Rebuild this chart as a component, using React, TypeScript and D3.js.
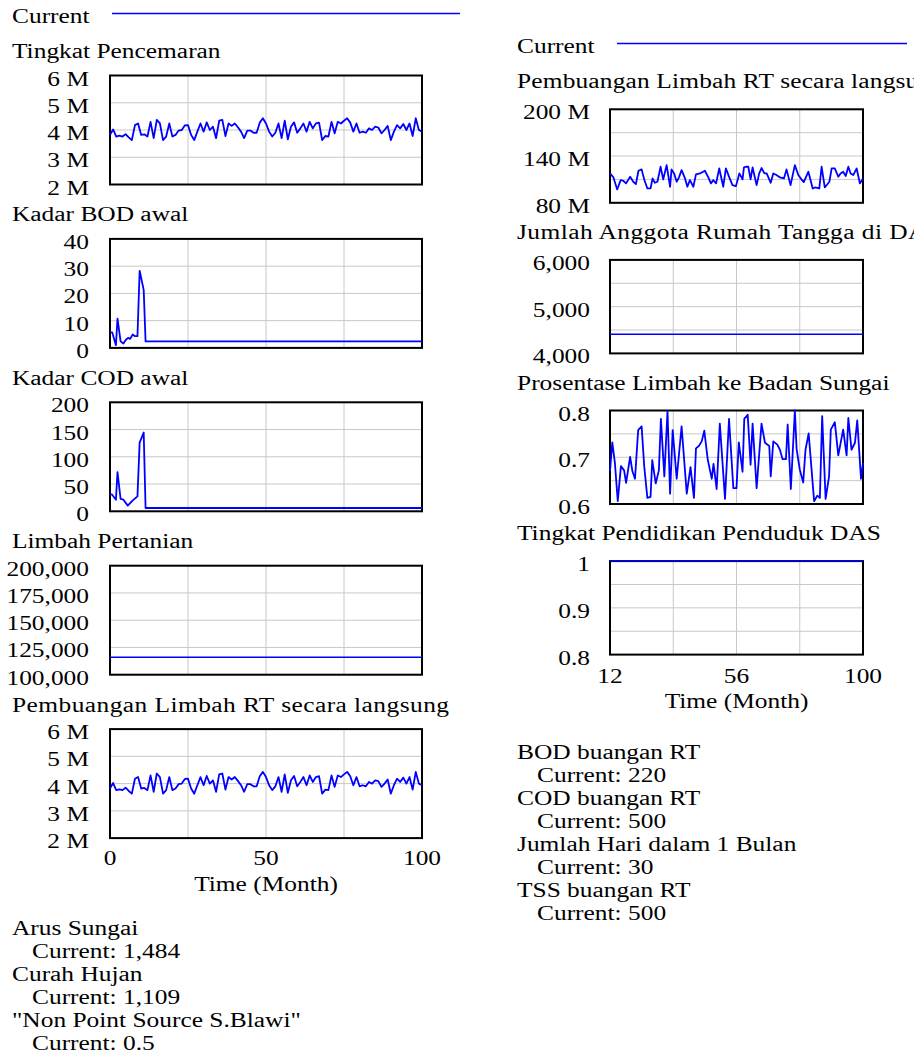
import React, { useEffect, useRef } from "react";
import * as d3 from "d3";

// ---- left column (time 0..100) ----
const monthsLeft = d3.range(0, 101);
// Tingkat Pencemaran, in millions
const tingkatPencemaran = [
  3.82, 4.02, 3.76, 3.79, 3.76, 3.85, 3.73, 3.63, 4.18, 4.24,
  3.82, 3.84, 3.76, 4.30, 3.70, 4.37, 4.24, 3.63, 3.76, 4.24,
  3.76, 3.82, 3.98, 4.00, 4.17, 4.18, 3.82, 3.63, 3.94, 4.24,
  3.94, 4.28, 4.00, 4.12, 3.70, 4.34, 4.37, 3.78, 4.24, 4.15,
  4.24, 4.10, 3.94, 3.70, 3.98, 3.98, 3.90, 3.90, 4.27, 4.43,
  4.24, 3.94, 3.76, 3.90, 4.24, 3.70, 4.34, 3.66, 4.12, 4.28,
  3.90, 4.06, 4.24, 3.94, 4.30, 4.06, 4.24, 4.27, 3.63, 3.78,
  3.76, 4.30, 3.88, 4.30, 4.24, 4.34, 4.43, 4.27, 3.94, 4.24,
  3.90, 3.94, 3.90, 4.06, 4.00, 4.12, 4.09, 3.88, 4.00, 4.15,
  3.63, 3.94, 4.18, 4.06, 4.22, 4.00, 4.24, 3.78, 4.43, 4.00,
  3.94,
];
// Pembuangan Limbah RT secara langsung (left) looks the same as above
const pembuanganLangsung = tingkatPencemaran;

const bodTime = [0, 0.7, 1.9, 2.4, 3.4, 4.3, 5.1, 5.8, 6.4, 7.3, 8.0, 8.8, 9.5, 10.8, 11.4, 100];
const bodValue = [5.7, 5.7, 1.0, 10.7, 2.4, 1.6, 3.0, 3.7, 3.3, 4.9, 4.3, 4.3, 28.3, 21.3, 2.4, 2.4];

const codTime = [0, 0.7, 1.9, 2.4, 3.4, 4.3, 5.7, 7.3, 8.8, 9.5, 10.8, 11.4, 100];
const codValue = [31.7, 30.5, 21.3, 72, 22.6, 21.3, 10.4, 20, 27.4, 126, 144.5, 6.1, 6.1];

const limbahPertanianTime = [0, 100];
const limbahPertanianValue = [116000, 116000];

// ---- right column (time 12..100) ----
const pembuanganKananTime = [
  12.0, 13.2, 14.5, 15.7, 16.6, 17.6, 19.0, 20.1, 21.0, 21.9,
  23.0, 23.9, 25.0, 26.1, 26.8, 27.6, 28.5, 29.6, 30.5, 31.7,
  32.9, 33.4, 34.3, 35.2, 36.0, 36.9, 38.1, 38.9, 39.8, 41.0,
  41.9, 43.3, 45.0, 46.2, 47.1, 47.9, 48.9, 50.0, 51.4, 52.3,
  53.5, 54.6, 55.8, 57.0, 58.1, 58.6, 59.5, 60.1, 60.9, 61.6,
  63.0, 63.9, 64.7, 65.7, 66.5, 67.9, 68.8, 69.9, 71.1, 72.5,
  73.4, 74.8, 76.3, 77.5, 78.6, 79.4, 81.0, 82.5, 83.3, 84.8,
  85.6, 86.7, 88.3, 89.1, 90.2, 91.4, 92.2, 93.1, 94.0, 94.9,
  95.7, 96.6, 97.8, 98.9, 100,
];
// millions
const pembuanganKananValue = [
  117.7, 112.6, 97.1, 109.1, 108.3, 104.9, 113.4, 107.0, 104.0, 121.1,
  122.9, 110.0, 98.4, 98.4, 111.3, 105.7, 107.0, 126.3, 110.0, 128.4,
  100.6, 122.9, 117.7, 107.0, 112.6, 122.0, 111.3, 100.6, 109.1, 100.6,
  116.4, 117.7, 121.1, 112.6, 104.9, 109.1, 104.9, 124.1, 100.6, 124.1,
  112.6, 102.7, 101.4, 117.7, 110.0, 125.4, 126.3, 126.3, 110.0, 125.4,
  102.7, 117.7, 124.6, 117.7, 117.7, 105.7, 117.7, 115.6, 112.6, 111.3,
  122.9, 102.7, 128.4, 115.6, 110.0, 106.6, 119.9, 98.4, 99.7, 98.4,
  126.3, 99.7, 107.0, 124.1, 124.1, 113.4, 117.7, 119.9, 114.3, 126.3,
  117.7, 115.6, 124.1, 104.9, 111.3,
];

const jumlahAnggotaTime = [12, 100];
const jumlahAnggotaValue = [4410, 4410];

const prosentaseTime = [
  12.0, 12.8, 13.7, 14.7, 15.8, 16.9, 17.6, 19.0, 19.8, 20.7,
  21.8, 23.0, 23.9, 25.0, 26.1, 26.7, 27.9, 29.0, 29.7, 30.9,
  32.0, 32.9, 33.8, 35.2, 36.9, 38.7, 40.0, 41.2, 41.9, 42.9,
  43.9, 44.8, 46.0, 47.4, 48.0, 49.1, 50.2, 52.0, 53.4, 54.9,
  56.0, 56.8, 58.1, 58.7, 59.9, 60.9, 61.6, 63.0, 64.7, 65.9,
  67.4, 67.9, 68.8, 70.2, 71.1, 72.0, 73.2, 73.8, 74.9, 76.3,
  76.9, 78.0, 79.2, 80.0, 81.1, 83.0, 84.1, 85.0, 85.8, 87.0,
  88.2, 88.8, 90.2, 91.4, 93.1, 94.3, 94.9, 96.0, 97.2, 98.0,
  99.3, 100,
];
const prosentaseValue = [
  0.670, 0.732, 0.688, 0.606, 0.681, 0.672, 0.645, 0.701, 0.670, 0.654,
  0.758, 0.766, 0.681, 0.613, 0.615, 0.694, 0.644, 0.672, 0.782, 0.659,
  0.799, 0.622, 0.758, 0.654, 0.766, 0.622, 0.679, 0.613, 0.719, 0.724,
  0.734, 0.757, 0.695, 0.654, 0.686, 0.632, 0.772, 0.611, 0.782, 0.634,
  0.634, 0.732, 0.669, 0.782, 0.791, 0.684, 0.772, 0.634, 0.772, 0.731,
  0.724, 0.659, 0.734, 0.727, 0.716, 0.696, 0.696, 0.770, 0.632, 0.800,
  0.718, 0.674, 0.646, 0.716, 0.751, 0.606, 0.618, 0.613, 0.788, 0.611,
  0.659, 0.759, 0.775, 0.704, 0.759, 0.704, 0.784, 0.716, 0.731, 0.779,
  0.654, 0.688,
];

const pendidikanTime = [12, 100];
const pendidikanValue = [1, 1];

// tick labels
const ticksMillion = [2, 3, 4, 5, 6];
const ticksMillionLabels = ["2 M", "3 M", "4 M", "5 M", "6 M"];
const ticksBod = [0, 10, 20, 30, 40];
const ticksCod = [0, 50, 100, 150, 200];
const ticksPertanian = [100000, 125000, 150000, 175000, 200000];
const ticksPertanianLabels = ["100,000", "125,000", "150,000", "175,000", "200,000"];
const gridKanan1 = [80, 110, 140, 170, 200];
const labelKanan1 = ["80 M", "", "140 M", "", "200 M"];
const gridKanan2 = [4000, 4500, 5000, 5500, 6000];
const labelKanan2 = ["4,000", "", "5,000", "", "6,000"];
const gridKanan3 = [0.6, 0.65, 0.7, 0.75, 0.8];
const labelKanan3 = ["0.6", "", "0.7", "", "0.8"];
const gridKanan4 = [0.8, 0.85, 0.9, 0.95, 1];
const labelKanan4 = ["0.8", "", "0.9", "", "1"];

const timeTicksLeft = [0, 50, 100];
const timeGridLeft = [25, 50, 75];
const timeTicksRight = [12, 56, 100];
const timeGridRight = [34, 56, 78];

const infoLeft = [
  ["Arus Sungai", "Current: 1,484"],
  ["Curah Hujan", "Current: 1,109"],
  ['"Non Point Source S.Blawi"', "Current: 0.5"],
];
const infoRight = [
  ["BOD buangan RT", "Current: 220"],
  ["COD buangan RT", "Current: 500"],
  ["Jumlah Hari dalam 1 Bulan", "Current: 30"],
  ["TSS buangan RT", "Current: 500"],
];

const W = 914;
const H = 1054;
const SX = 1.27; // text is drawn horizontally stretched
const BLUE = "#0000ff";

function txt(g, x, y, s, anchor = "start", width = 0) {
  const t = g
    .append("text")
    .attr("transform", `translate(${x},${y}) scale(${SX},1)`)
    .attr("text-anchor", anchor)
    .text(s);
  if (width) t.attr("textLength", width / SX).attr("lengthAdjust", "spacing");
  return t;
}

function drawPanel(g, p) {
  const x = p.x;
  const [x0, x1] = x.range();
  const y = d3.scaleLinear().domain(p.domain).range([p.top + p.height, p.top]);

  // grid
  g.append("g")
    .selectAll("line")
    .data(p.grid)
    .enter()
    .append("line")
    .attr("x1", x0)
    .attr("x2", x1)
    .attr("y1", (d) => y(d))
    .attr("y2", (d) => y(d))
    .attr("stroke", "#c8c8c8")
    .attr("stroke-width", 1);
  g.append("g")
    .selectAll("line")
    .data(p.xGrid)
    .enter()
    .append("line")
    .attr("x1", (d) => x(d))
    .attr("x2", (d) => x(d))
    .attr("y1", p.top)
    .attr("y2", p.top + p.height)
    .attr("stroke", "#c8c8c8")
    .attr("stroke-width", 1);

  g.append("rect")
    .attr("x", x0)
    .attr("y", p.top)
    .attr("width", x1 - x0)
    .attr("height", p.height)
    .attr("fill", "none")
    .attr("stroke", "#000")
    .attr("stroke-width", 2);

  const pts = p.time.map((t, i) => [t, p.values[i]]);
  const line = d3
    .line()
    .x((d) => x(d[0]))
    .y((d) => y(d[1]));
  g.append("path")
    .datum(pts)
    .attr("d", line)
    .attr("fill", "none")
    .attr("stroke", BLUE)
    .attr("stroke-width", p.lw || 1.8)
    .attr("stroke-linejoin", "round");

  // labels
  p.grid.forEach((v, i) => {
    if (p.labels[i]) txt(g, p.labelX, y(v) + 10, p.labels[i], "end");
  });
  txt(g, p.titleX, p.top - p.titleGap, p.title, "start", p.tw || 0);
}

function App() {
  const ref = useRef(null);

  useEffect(() => {
    const svg = d3.select(ref.current);
    svg.selectAll("*").remove();
    const g = svg
      .append("g")
      .attr("font-family", "'Liberation Serif', 'Times New Roman', serif")
      .attr("font-size", 20)
      .attr("fill", "#000");

    const xL = d3.scaleLinear().domain([0, 100]).range([110, 422]);
    const xR = d3.scaleLinear().domain([12, 100]).range([610, 863]);

    // legends
    txt(g, 12, 23, "Current");
    g.append("line").attr("x1", 112).attr("x2", 460).attr("y1", 13.5).attr("y2", 13.5)
      .attr("stroke", BLUE).attr("stroke-width", 1.5);
    txt(g, 517, 53, "Current");
    g.append("line").attr("x1", 617).attr("x2", 907).attr("y1", 43.5).attr("y2", 43.5)
      .attr("stroke", BLUE).attr("stroke-width", 1.5);

    const leftTop = 75.5;
    const leftStep = 163.4;
    const leftH = 109;
    const left = [
      { title: "Tingkat Pencemaran", domain: [2, 6], grid: ticksMillion, labels: ticksMillionLabels, time: monthsLeft, values: tingkatPencemaran },
      { title: "Kadar BOD awal", domain: [0, 40], grid: ticksBod, labels: ticksBod.map(String), time: bodTime, values: bodValue },
      { title: "Kadar COD awal", domain: [0, 200], grid: ticksCod, labels: ticksCod.map(String), time: codTime, values: codValue },
      { title: "Limbah Pertanian", domain: [100000, 200000], grid: ticksPertanian, labels: ticksPertanianLabels, time: limbahPertanianTime, values: limbahPertanianValue, lw: 1.5 },
      { title: "Pembuangan Limbah RT secara langsung", domain: [2, 6], grid: ticksMillion, labels: ticksMillionLabels, time: monthsLeft, values: pembuanganLangsung, tw: 437 },
    ];
    left.forEach((p, i) => {
      drawPanel(g, { ...p, x: xL, xGrid: timeGridLeft, top: leftTop + i * leftStep, height: leftH, labelX: 89, titleX: 12, titleGap: 17.5 });
    });
    const leftBottom = leftTop + 4 * leftStep + leftH;
    timeTicksLeft.forEach((t) => txt(g, xL(t), leftBottom + 27, String(t), "middle"));
    txt(g, xL(50), leftBottom + 53, "Time (Month)", "middle");

    const rightTop = 109.3;
    const rightStep = 150.6;
    const rightH = 93.5;
    const right = [
      { title: "Pembuangan Limbah RT secara langsung", domain: [80, 200], grid: gridKanan1, labels: labelKanan1, time: pembuanganKananTime, values: pembuanganKananValue, tw: 427 },
      { title: "Jumlah Anggota Rumah Tangga di DAS", domain: [4000, 6000], grid: gridKanan2, labels: labelKanan2, time: jumlahAnggotaTime, values: jumlahAnggotaValue, lw: 1.5, tw: 424 },
      { title: "Prosentase Limbah ke Badan Sungai", domain: [0.6, 0.8], grid: gridKanan3, labels: labelKanan3, time: prosentaseTime, values: prosentaseValue },
      { title: "Tingkat Pendidikan Penduduk DAS", domain: [0.8, 1], grid: gridKanan4, labels: labelKanan4, time: pendidikanTime, values: pendidikanValue, lw: 1.5 },
    ];
    right.forEach((p, i) => {
      drawPanel(g, { ...p, x: xR, xGrid: timeGridRight, top: rightTop + i * rightStep, height: rightH, labelX: 590, titleX: 517, titleGap: 21 });
    });
    const rightBottom = rightTop + 3 * rightStep + rightH;
    timeTicksRight.forEach((t) => txt(g, xR(t), rightBottom + 28, String(t), "middle"));
    txt(g, xR(56), rightBottom + 53, "Time (Month)", "middle");

    // constant values
    infoLeft.forEach((d, i) => {
      txt(g, 12, 935 + i * 46, d[0]);
      txt(g, 32, 958 + i * 46, d[1]);
    });
    infoRight.forEach((d, i) => {
      txt(g, 517, 759 + i * 46, d[0]);
      txt(g, 537, 782 + i * 46, d[1]);
    });
  }, []);

  return (
    <svg
      ref={ref}
      width={W}
      height={H}
      style={{ position: "absolute", left: 0, top: 0, display: "block", background: "#fff", overflow: "hidden" }}
    />
  );
}

export default App;
